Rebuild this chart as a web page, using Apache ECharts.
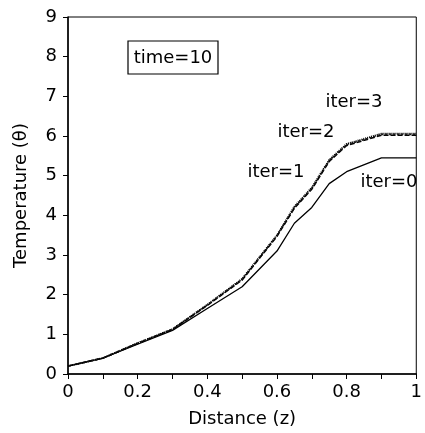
<!DOCTYPE html>
<html>
<head>
<meta charset="utf-8">
<script src="https://cdn.jsdelivr.net/npm/echarts@6/dist/echarts.min.js"></script>
<style>
  html, body { margin: 0; padding: 0; background: #fff; }
  #chart { width: 425px; height: 433px; }
</style>
</head>
<body>
<div id="chart"></div>
<script>
// distance values (z)
var distance = [0, 0.1, 0.2, 0.3, 0.4, 0.5, 0.6, 0.65, 0.7, 0.75, 0.8, 0.9, 1.0];

// temperature per iteration
var iter0 = [0.2, 0.4, 0.75, 1.1, 1.65, 2.2, 3.1, 3.8, 4.2, 4.8, 5.1, 5.45, 5.45];
var iter1 = [0.2, 0.4, 0.77, 1.12, 1.73, 2.37, 3.47, 4.18, 4.66, 5.36, 5.76, 6.02, 6.02];
var iter2 = [0.2, 0.4, 0.78, 1.13, 1.74, 2.39, 3.49, 4.2, 4.68, 5.38, 5.78, 6.04, 6.04];
var iter3 = [0.2, 0.4, 0.78, 1.13, 1.75, 2.4, 3.5, 4.22, 4.7, 5.4, 5.8, 6.06, 6.06];

var yTicks = [0, 1, 2, 3, 4, 5, 6, 7, 8, 9];

function pairs(ys) {
  return distance.map(function (x, i) { return [x, ys[i]]; });
}

var chart = echarts.init(document.getElementById('chart'));
var font = 'DejaVu Sans, Liberation Sans, sans-serif';

var option = {
  animation: false,
  grid: { left: 68, right: 4, top: 17, bottom: 56, show: true, borderColor: '#000', borderWidth: 1 },
  xAxis: {
    type: 'value', min: 0, max: 1, interval: 0.1,
    name: 'Distance (z)', nameLocation: 'middle', nameGap: 36,
    nameTextStyle: { color: '#000', fontSize: 18, fontFamily: font },
    axisLine: { lineStyle: { color: '#000', width: 1.5 } },
    axisTick: { length: 5, lineStyle: { color: '#000' } },
    axisLabel: {
      color: '#000', fontSize: 18, fontFamily: font, margin: 9,
      formatter: function (v) {
        var r = Math.round(v * 10);
        return r % 2 === 0 ? String(r / 10) : '';
      }
    },
    splitLine: { show: false }
  },
  yAxis: {
    type: 'value', min: 0, max: 9, interval: 1,
    name: 'Temperature (θ)', nameLocation: 'middle', nameGap: 38, nameRotate: 90,
    nameTextStyle: { color: '#000', fontSize: 18, fontFamily: font },
    axisLine: { show: true, lineStyle: { color: '#000', width: 1.5 } },
    axisTick: { show: true, length: 5, lineStyle: { color: '#000' } },
    axisLabel: { color: '#000', fontSize: 18, fontFamily: font, margin: 11,
      formatter: function (v) { return yTicks.indexOf(v) >= 0 ? String(v) : ''; } },
    splitLine: { show: false }
  },
  series: [
    { name: 'iter=0', type: 'line', data: pairs(iter0), symbol: 'none',
      lineStyle: { color: '#000', width: 1.3 } },
    { name: 'iter=1', type: 'line', data: pairs(iter1), symbol: 'none',
      lineStyle: { color: '#000', width: 1.6, type: [5, 2] } },
    { name: 'iter=2', type: 'line', data: pairs(iter2), symbol: 'none',
      lineStyle: { color: '#222', width: 1.6, type: [2, 2] } },
    { name: 'iter=3', type: 'line', data: pairs(iter3), symbol: 'none',
      lineStyle: { color: '#000', width: 1.8, type: [1, 1] } }
  ],
  graphic: [
    { type: 'rect', shape: { x: 128, y: 41, width: 90, height: 33 },
      style: { fill: '#fff', stroke: '#000', lineWidth: 1.2 } },
    { type: 'text', x: 173, y: 58,
      style: { text: 'time=10', font: '18px ' + font, fill: '#000', align: 'center', verticalAlign: 'middle' } },
    { type: 'text', x: 354, y: 102,
      style: { text: 'iter=3', font: '18px ' + font, fill: '#000', align: 'center', verticalAlign: 'middle' } },
    { type: 'text', x: 306, y: 132,
      style: { text: 'iter=2', font: '18px ' + font, fill: '#000', align: 'center', verticalAlign: 'middle' } },
    { type: 'text', x: 276, y: 172,
      style: { text: 'iter=1', font: '18px ' + font, fill: '#000', align: 'center', verticalAlign: 'middle' } },
    { type: 'text', x: 389, y: 182,
      style: { text: 'iter=0', font: '18px ' + font, fill: '#000', align: 'center', verticalAlign: 'middle' } }
  ]
};

chart.setOption(option);
</script>
</body>
</html>
